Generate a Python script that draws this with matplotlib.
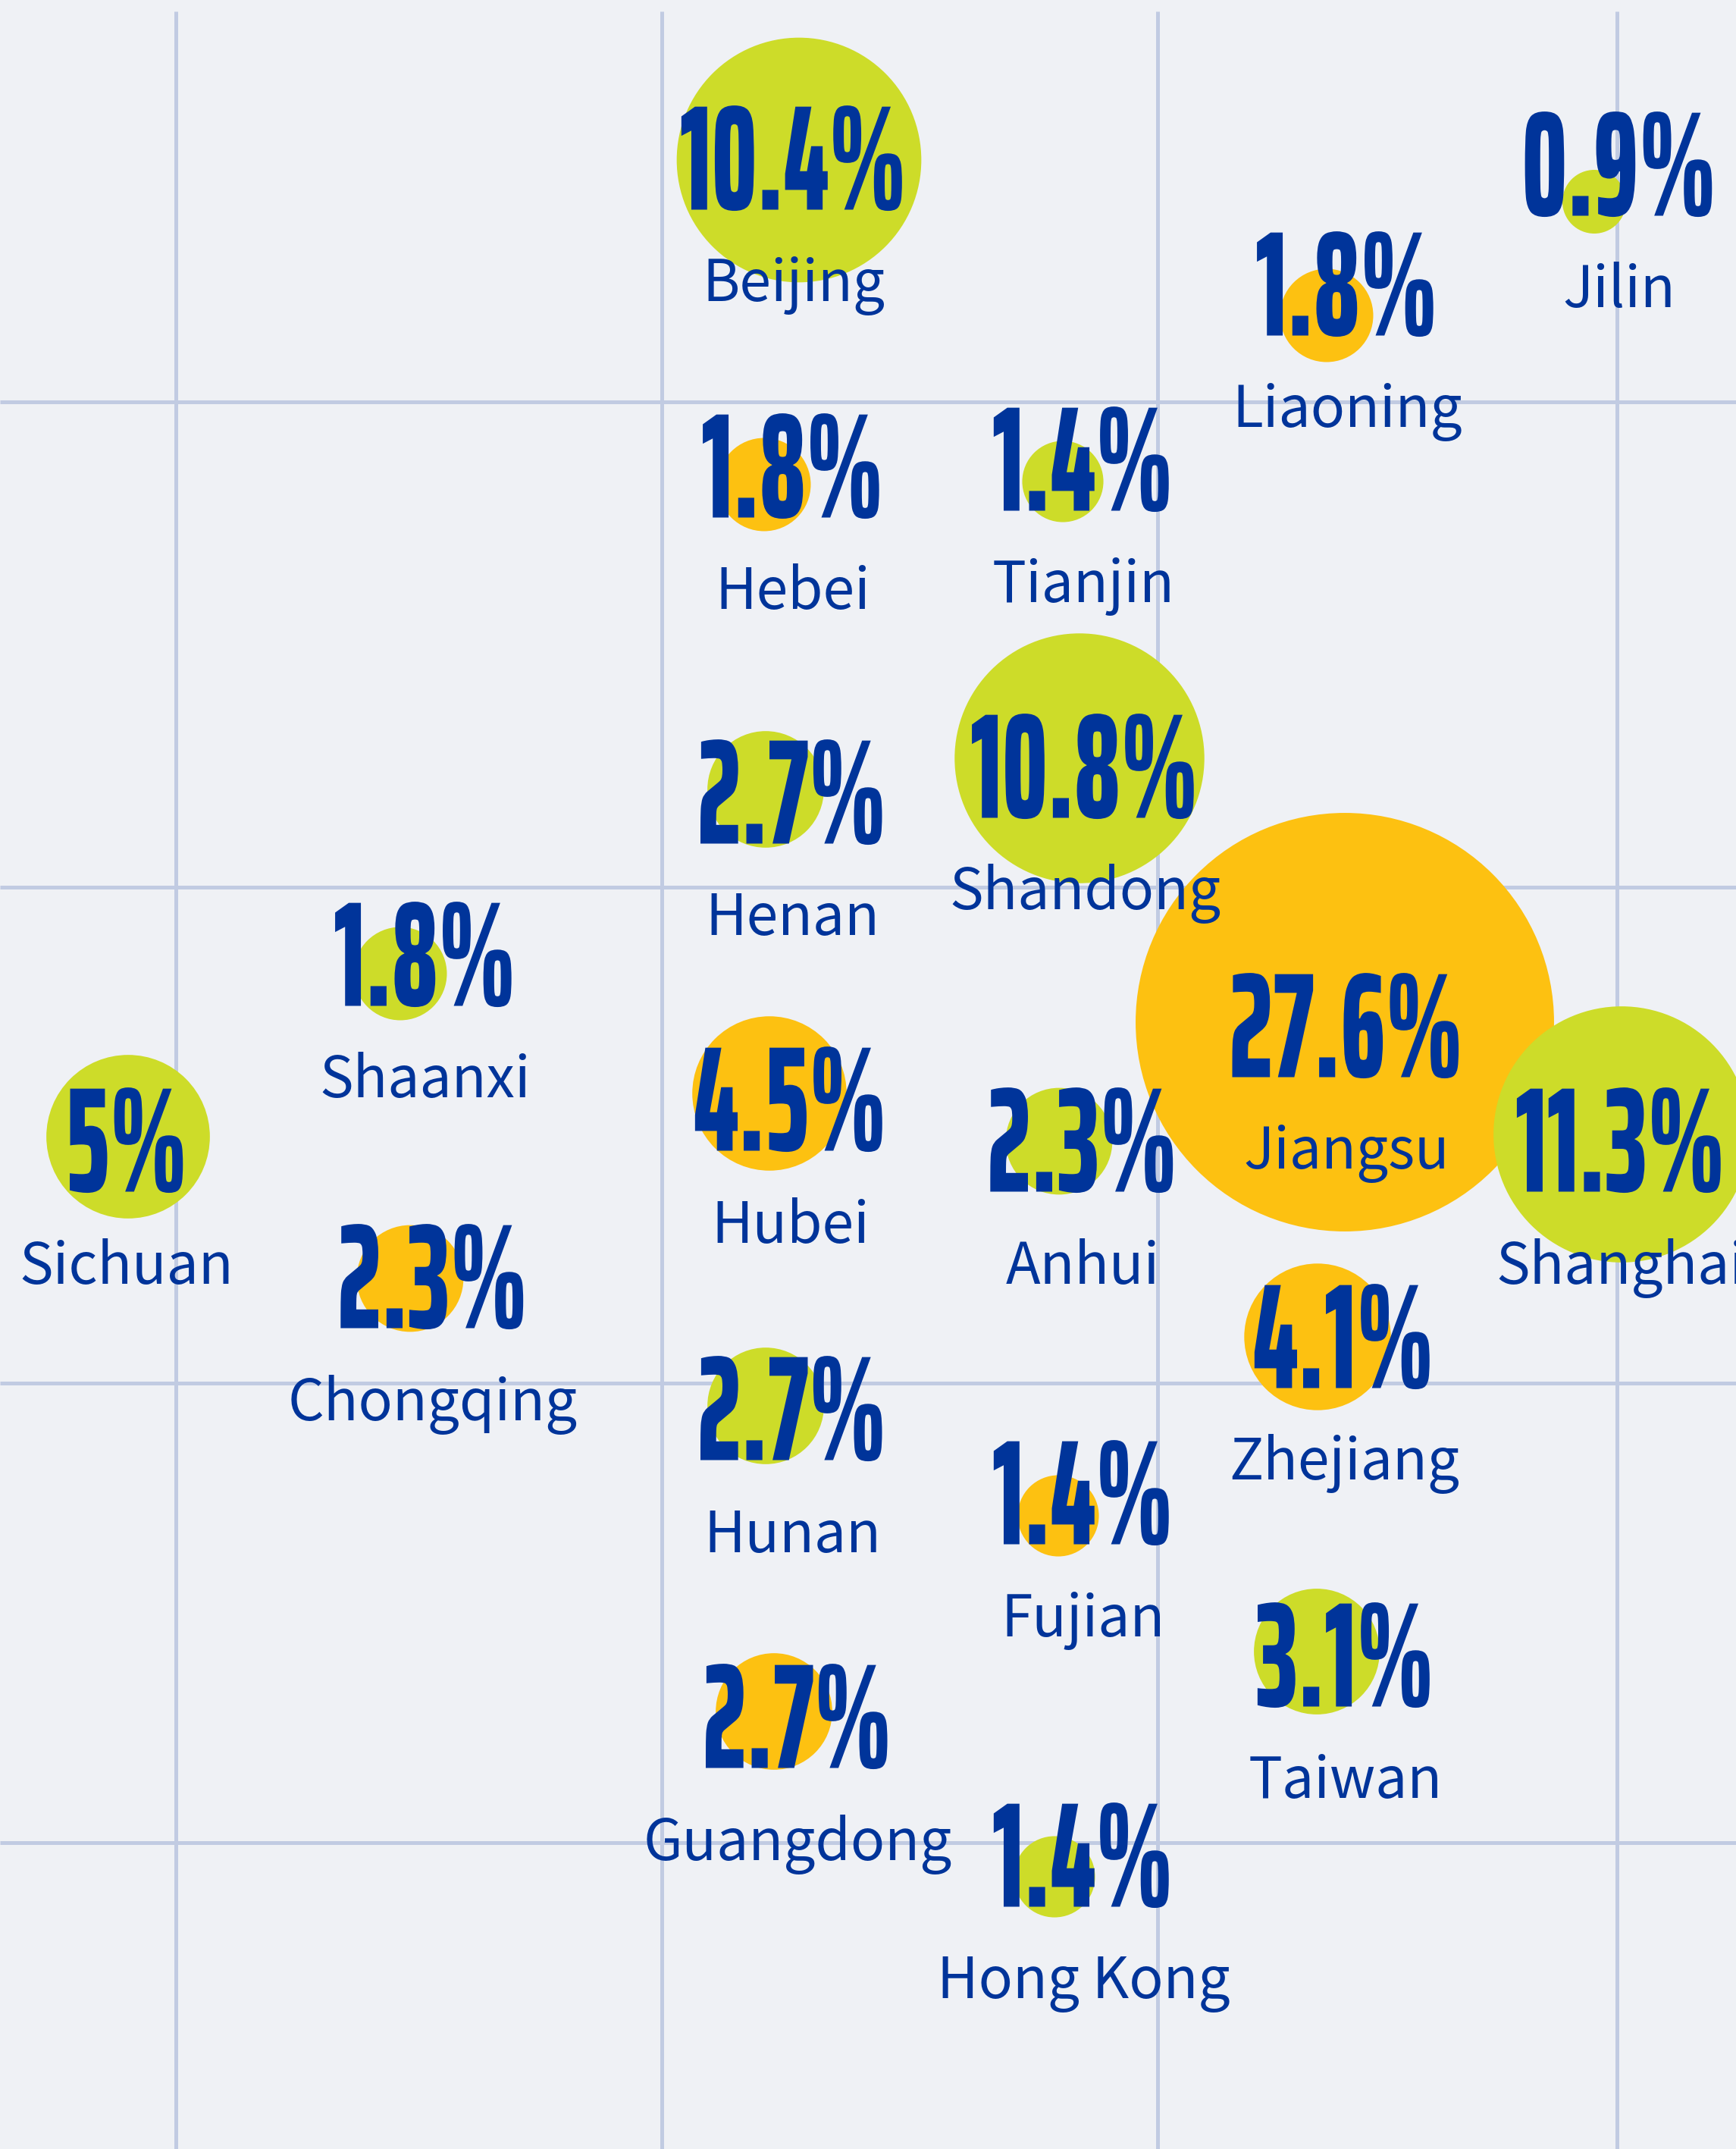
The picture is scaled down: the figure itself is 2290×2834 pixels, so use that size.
import matplotlib
matplotlib.use("Agg")
import matplotlib.pyplot as plt
from matplotlib.patches import Circle
from matplotlib.patheffects import AbstractPathEffect
from matplotlib.transforms import Affine2D
from matplotlib.textpath import TextPath
from matplotlib.font_manager import FontProperties

# canvas in pixels, data units == pixels (y grows downward)
W, H = 2290, 2834

BG = '#eff1f5'
GRID = '#c1cbe2'
BLUE = '#00349a'
GREEN = '#cddc29'
AMBER = '#fdc111'

# --- data ---
names = ['Beijing', 'Jilin', 'Liaoning', 'Hebei', 'Tianjin', 'Henan', 'Shandong',
         'Jiangsu', 'Shanghai', 'Shaanxi', 'Chongqing', 'Hubei', 'Anhui', 'Sichuan',
         'Zhejiang', 'Fujian', 'Taiwan', 'Hunan', 'Guangdong', 'Hong Kong']
share = [10.4, 0.9, 1.8, 1.8, 1.4, 2.7, 10.8, 27.6, 11.3, 1.8, 2.3, 4.5, 2.3, 5,
         4.1, 1.4, 3.1, 2.7, 2.7, 1.4]
group = ['g', 'g', 'a', 'a', 'g', 'g', 'g', 'a', 'g', 'g', 'a', 'a', 'g', 'g',
         'a', 'a', 'g', 'g', 'a', 'g']
# where the label sits (x centre, y centre of the percentage)
label_x = [1047, 2136, 1777, 1046, 1429, 1045, 1431, 1776, 2138, 561, 571, 1043,
           1428, 167, 1773, 1429, 1775, 1045, 1052, 1429]
label_y = [207, 215, 373, 613, 604, 1043, 1009, 1351, 1502, 1257, 1682, 1448,
           1502, 1502, 1761, 1967, 2181, 1856, 2262, 2445]
# where the bubble sits
bubble_x = [1054, 2103, 1750, 1008, 1402, 1010, 1424, 1774, 2139, 528, 541, 1015,
            1397, 169, 1738, 1396, 1737, 1010, 1021, 1391]
bubble_y = [211, 266, 416, 639, 635, 1041, 1000, 1348, 1496, 1284, 1686, 1442,
            1505, 1499, 1763, 1999, 2178, 1854, 2257, 2475]
grid_x = [232, 873, 1527, 2133]
grid_y = [530, 1170, 1824, 2430]

colors = {'g': GREEN, 'a': AMBER}

NUM_FONT = FontProperties(family='Saira ExtraCondensed', weight=800)
LBL_FONT = ['Noto Sans CJK SC', 'DejaVu Sans']
DIGIT_H = 139     # px height of the big numbers
REF_W = 291       # px width of "10.4%"
PX = 100 / 72     # px per pt


class Squeeze(AbstractPathEffect):
    """narrow the glyphs horizontally around their own centre"""
    def __init__(self, sx):
        super().__init__()
        self.sx = sx

    def draw_path(self, renderer, gc, tpath, affine, rgbFace=None):
        ext = tpath.get_extents()
        cx = (ext.x0 + ext.x1) / 2
        t = Affine2D().translate(-cx, 0).scale(self.sx, 1).translate(cx, 0) + affine
        renderer.draw_path(gc, tpath, t, rgbFace)


def radius(p):
    return 44.5 * p ** 0.55


# size the number font from its own glyphs
h0 = TextPath((0, 0), '0', size=100, prop=NUM_FONT).get_extents().height * PX
num_size = 100 * DIGIT_H / h0
w0 = TextPath((0, 0), '10.4%', size=num_size, prop=NUM_FONT).get_extents().width * PX
squeeze = REF_W / w0

fig = plt.figure(figsize=(W / 100, H / 100), dpi=100, facecolor=BG)
ax = fig.add_axes([0, 0, 1, 1])
ax.set_xlim(0, W)
ax.set_ylim(H, 0)
ax.set_facecolor(BG)
ax.axis('off')

ax.vlines(grid_x, 15, H, color=GRID, lw=3.6, zorder=1)
ax.hlines(grid_y, 0, W, color=GRID, lw=3.6, zorder=1)

for i in range(len(names)):
    ax.add_patch(Circle((bubble_x[i], bubble_y[i]), radius(share[i]),
                        facecolor=colors[group[i]], edgecolor='none', zorder=2))
    ax.text(label_x[i], label_y[i] + DIGIT_H / 2, f'{share[i]:g}%', ha='center',
            va='baseline', fontproperties=NUM_FONT, fontsize=num_size, color=BLUE,
            path_effects=[Squeeze(squeeze)], zorder=4)
    ax.text(label_x[i], label_y[i] + 163 + 27.5, names[i], ha='center', va='baseline',
            family=LBL_FONT, fontsize=54, color=BLUE, zorder=4)

fig.savefig('out.png', dpi=100, facecolor=BG)
